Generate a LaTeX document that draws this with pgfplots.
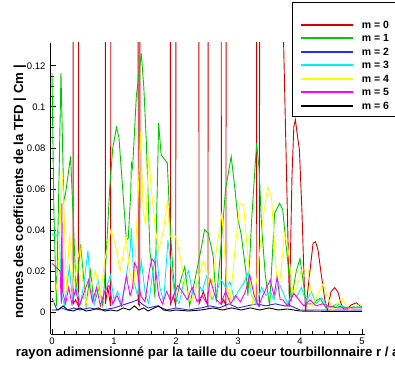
\documentclass[border=0pt]{standalone}
\usepackage{fontspec}
\setmainfont{Liberation Sans}
\usepackage{pgfplots}
\pgfplotsset{compat=1.18}
\definecolor{mred}{RGB}{210,0,0}
\definecolor{mgreen}{RGB}{0,200,0}
\definecolor{mblue}{RGB}{40,40,255}
\definecolor{mcyan}{RGB}{0,240,240}
\definecolor{myellow}{RGB}{255,255,0}
\definecolor{mmag}{RGB}{255,0,255}
\begin{document}
\begin{tikzpicture}[x=1pt,y=1pt]
\begin{axis}[
  at={(50.5pt,35pt)}, anchor=south west,
  scale only axis, width=314.5pt, height=291pt,
  xmin=-0.024, xmax=5.048, ymin=-0.0107, ymax=0.1311,
  axis x line=bottom, axis y line=left,
  axis line style={-, line width=0.8pt},
  tick align=inside, major tick length=5pt, minor tick length=3pt,
  every tick/.style={black, line width=0.7pt},
  xtick={0,1,2,3,4,5}, minor x tick num=4,
  ytick={0,0.02,0.04,0.06,0.08,0.1,0.12}, minor y tick num=3,
  scaled y ticks=false, scaled x ticks=false,
  /pgf/number format/assume math mode=true,
  ticklabel style={font=\fontsize{9.5}{11}\selectfont},
  yticklabel style={/pgf/number format/fixed, /pgf/number format/precision=2, xshift=-1.5pt},
  xlabel={rayon adimensionné par la taille du coeur tourbillonnaire r / a},
  ylabel={normes des coefficients de la TFD | Cm |},
  label style={font=\bfseries\fontsize{13.2}{16}\selectfont},
  xlabel style={at={(axis description cs:0.5,-0.078)}, anchor=base},
  ylabel style={at={(axis description cs:-0.0874,0.488)}, anchor=base},
  legend style={at={(axis description cs:0.768,1.141)}, anchor=north west,
    draw=black, line width=0.8pt, fill=white, inner xsep=7.5pt, inner ysep=3pt,
    row sep=0pt, column sep=8pt,
    font=\bfseries\fontsize{10.5}{12}\selectfont,
    nodes={inner sep=0pt, anchor=base west, text height=9.5pt, text depth=4pt}},
  legend cell align=left,
  legend image code/.code={\draw[#1, line width=2pt] (0pt,3.5pt) -- (52pt,3.5pt);},
  every axis plot/.append style={line width=0.9pt},
]
\addlegendimage{empty legend}
\addlegendentry{}
% m = 0
\addplot[mred] coordinates {
(0.00,0.30) (0.337,0.30) (0.342,0.004) (0.38,0.006) (0.425,0.003) (0.432,0.30)
(0.857,0.30) (0.862,0.004) (0.90,0.012) (0.945,0.003) (0.952,0.30)
(1.387,0.30) (1.392,0.004) (1.415,0.003) (1.422,0.30)
(1.907,0.30) (1.912,0.004) (1.96,0.008) (1.995,0.003) (2.002,0.30)
(2.365,0.30) (2.372,0.004) (2.44,0.010) (2.515,0.003) (2.522,0.30)
(2.727,0.30) (2.732,0.004) (2.77,0.006) (2.805,0.003) (2.812,0.30)
(3.297,0.30) (3.302,0.004) (3.345,0.003) (3.352,0.30)
(3.71,0.30) (3.725,0.145) (3.83,0.0026) (3.87,0.066) (3.90,0.0904) (3.925,0.0937)
(3.96,0.0855) (3.99,0.079) (4.03,0.0498) (4.07,0.0123) (4.09,0.0005)
(4.15,0.0172) (4.21,0.0335) (4.25,0.0343) (4.29,0.0302) (4.34,0.0189) (4.40,0.006) (4.44,0.001)
(4.50,0.0099) (4.56,0.0119) (4.61,0.0099) (4.66,0.0042) (4.70,0.0015)
(4.76,0.0015) (4.82,0.0034) (4.91,0.0045) (4.98,0.0026) (5.0,0.0025)
};
\addlegendentry{m = 0}
% m = 1
\addplot[mgreen] coordinates {
(0.00,0.1164) (0.03,0.05) (0.07,0.003) (0.11,0.06) (0.145,0.1164) (0.19,0.054)
(0.22,0.058) (0.30,0.0758) (0.35,0.04) (0.39,0.009) (0.46,0.033) (0.50,0.02)
(0.55,0.003) (0.62,0.02) (0.68,0.004) (0.76,0.012) (0.82,0.003) (0.87,0.025)
(0.93,0.06) (0.98,0.08) (1.04,0.090) (1.08,0.085) (1.14,0.06) (1.20,0.035)
(1.23,0.036) (1.27,0.058) (1.28,0.0725) (1.30,0.070) (1.36,0.105) (1.44,0.126)
(1.48,0.11) (1.52,0.084) (1.58,0.029) (1.63,0.019) (1.66,0.007) (1.72,0.092)
(1.76,0.0766) (1.80,0.075) (1.86,0.0725) (1.90,0.045) (1.95,0.020) (2.00,0.005)
(2.07,0.015) (2.14,0.022) (2.22,0.003) (2.30,0.015) (2.40,0.030) (2.46,0.040)
(2.52,0.0385) (2.60,0.027) (2.65,0.005) (2.72,0.03) (2.80,0.06) (2.89,0.0758)
(2.95,0.06) (3.00,0.045) (3.05,0.038) (3.13,0.019) (3.16,0.008) (3.22,0.045)
(3.30,0.0823) (3.34,0.07) (3.38,0.0416) (3.44,0.018) (3.51,0.003) (3.59,0.048)
(3.67,0.053) (3.72,0.050) (3.81,0.022) (3.86,0.006) (3.94,0.02) (4.00,0.026)
(4.05,0.015) (4.10,0.004) (4.20,0.004) (4.32,0.0067) (4.42,0.002) (4.60,0.003)
(4.75,0.002) (5.00,0.003)
};
\addlegendentry{m = 1}
% m = 2
\addplot[mblue] coordinates {
(0.00,0.0067) (0.04,0.004) (0.08,0.001) (0.15,0.002) (0.25,0.001) (0.35,0.002)
(0.45,0.001) (0.60,0.002) (0.80,0.001) (1.00,0.002) (1.20,0.004) (1.30,0.005)
(1.38,0.006) (1.45,0.004) (1.55,0.002) (1.70,0.003) (1.85,0.001) (2.00,0.002)
(2.20,0.001) (2.40,0.002) (2.55,0.003) (2.70,0.002) (2.85,0.004) (3.00,0.002)
(3.15,0.003) (3.30,0.004) (3.45,0.003) (3.60,0.004) (3.75,0.003) (3.85,0.003)
(4.00,0.001) (4.20,0.001) (4.50,0.001) (4.80,0.001) (5.00,0.001)
};
\addlegendentry{m = 2}
% m = 3
\addplot[mcyan] coordinates {
(0.00,0.038) (0.06,0.037) (0.12,0.039) (0.15,0.01) (0.20,0.003) (0.28,0.022)
(0.33,0.006) (0.40,0.012) (0.46,0.004) (0.52,0.015) (0.58,0.030) (0.62,0.012)
(0.68,0.004) (0.74,0.016) (0.80,0.006) (0.88,0.012) (0.94,0.018) (1.00,0.006)
(1.06,0.010) (1.12,0.004) (1.20,0.018) (1.26,0.03) (1.28,0.041) (1.32,0.015)
(1.38,0.008) (1.44,0.025) (1.50,0.010) (1.56,0.004) (1.62,0.018) (1.68,0.030)
(1.74,0.012) (1.80,0.005) (1.87,0.035) (1.92,0.022) (1.98,0.008) (2.05,0.004)
(2.12,0.014) (2.20,0.020) (2.28,0.008) (2.35,0.015) (2.42,0.010) (2.50,0.018)
(2.58,0.006) (2.65,0.010) (2.73,0.0156) (2.80,0.012) (2.87,0.0148) (2.94,0.006)
(3.00,0.010) (3.09,0.014) (3.16,0.019) (3.22,0.008) (3.30,0.004) (3.38,0.012)
(3.45,0.008) (3.52,0.010) (3.58,0.006) (3.65,0.0148) (3.72,0.010) (3.80,0.004)
(3.88,0.010) (3.95,0.0075) (4.02,0.012) (4.10,0.005) (4.18,0.010) (4.26,0.004)
(4.35,0.007) (4.45,0.002) (4.60,0.004) (4.75,0.002) (5.00,0.003)
};
\addlegendentry{m = 3}
% m = 4
\addplot[myellow] coordinates {
(0.00,0.003) (0.05,0.006) (0.10,0.02) (0.14,0.05) (0.167,0.0677) (0.19,0.055)
(0.23,0.010) (0.285,0.0385) (0.35,0.013) (0.45,0.032) (0.50,0.015) (0.55,0.004)
(0.62,0.012) (0.70,0.02) (0.78,0.008) (0.85,0.025) (0.95,0.040) (1.02,0.033)
(1.10,0.02) (1.20,0.036) (1.25,0.02) (1.32,0.012) (1.38,0.05) (1.43,0.088)
(1.47,0.05) (1.51,0.042) (1.56,0.0758) (1.60,0.06) (1.67,0.040) (1.72,0.03)
(1.80,0.04) (1.86,0.0546) (1.90,0.037) (1.99,0.037) (2.05,0.030) (2.15,0.012)
(2.25,0.005) (2.35,0.015) (2.44,0.025) (2.50,0.02) (2.56,0.008) (2.65,0.03)
(2.74,0.048) (2.81,0.018) (2.87,0.004) (2.95,0.03) (3.03,0.053) (3.09,0.052)
(3.16,0.027) (3.24,0.003) (3.32,0.02) (3.40,0.045) (3.48,0.061) (3.54,0.056)
(3.62,0.018) (3.66,0.01) (3.75,0.038) (3.81,0.030) (3.89,0.0075) (3.95,0.012)
(4.02,0.0205) (4.13,0.0205) (4.20,0.003) (4.37,0.0137) (4.53,0.001) (4.67,0.0067)
(4.80,0.001) (4.96,0.0037) (5.00,0.003)
};
\addlegendentry{m = 4}
% m = 5
\addplot[mmag] coordinates {
(0.00,0.0237) (0.06,0.022) (0.13,0.020) (0.15,0.004) (0.16,0.053) (0.17,0.01)
(0.22,0.004) (0.27,0.012) (0.32,0.004) (0.38,0.011) (0.44,0.003) (0.50,0.008)
(0.59,0.0156) (0.65,0.005) (0.72,0.012) (0.78,0.003) (0.85,0.010) (0.92,0.013)
(0.98,0.004) (1.05,0.008) (1.12,0.003) (1.20,0.0172) (1.26,0.008) (1.30,0.012)
(1.33,0.024) (1.37,0.0215) (1.43,0.008) (1.50,0.005) (1.57,0.020) (1.61,0.026)
(1.66,0.024) (1.72,0.008) (1.78,0.004) (1.85,0.010) (1.92,0.005) (2.03,0.013)
(2.10,0.010) (2.18,0.006) (2.26,0.012) (2.34,0.005) (2.42,0.008) (2.50,0.004)
(2.55,0.016) (2.58,0.013) (2.65,0.006) (2.72,0.004) (2.80,0.010) (2.88,0.004)
(2.96,0.008) (3.04,0.005) (3.12,0.010) (3.19,0.018) (3.26,0.008) (3.33,0.003)
(3.40,0.008) (3.46,0.012) (3.52,0.0156) (3.58,0.008) (3.63,0.017) (3.68,0.006)
(3.72,0.006) (3.80,0.003) (3.90,0.009) (3.98,0.006) (4.06,0.003) (4.16,0.006)
(4.26,0.003) (4.36,0.004) (4.45,0.003) (4.60,0.002) (4.80,0.002) (5.00,0.002)
};
\addlegendentry{m = 5}
% m = 6
\addplot[black] coordinates {
(0.00,0.001) (0.10,0.001) (0.18,0.003) (0.25,0.001) (0.35,0.0005) (0.45,0.002)
(0.55,0.0005) (0.65,0.001) (0.75,0.002) (0.85,0.0005) (0.95,0.001) (1.05,0.0005)
(1.15,0.002) (1.25,0.001) (1.33,0.003) (1.40,0.001) (1.48,0.002) (1.55,0.0005)
(1.65,0.002) (1.72,0.003) (1.80,0.001) (1.90,0.0005) (2.00,0.001) (2.20,0.0005)
(2.40,0.001) (2.60,0.002) (2.75,0.001) (2.90,0.002) (3.05,0.001) (3.20,0.002)
(3.35,0.001) (3.50,0.002) (3.65,0.001) (3.80,0.0015) (4.00,0.0005) (4.50,0.0003)
(5.00,0.0003)
};
\addlegendentry{m = 6}
\end{axis}
\pgfresetboundingbox
\path[use as bounding box] (0pt,0pt) rectangle (395pt,369pt);
\end{tikzpicture}
\end{document}
